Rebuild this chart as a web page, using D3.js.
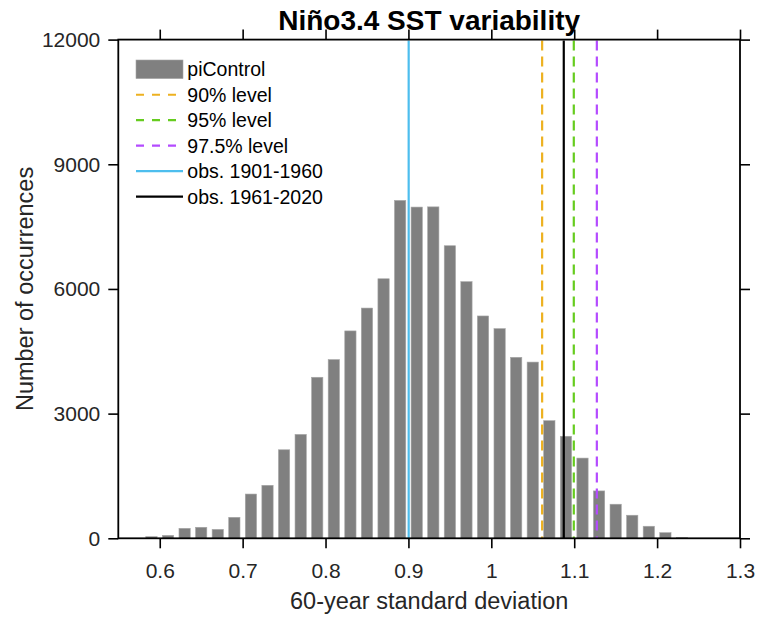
<!DOCTYPE html>
<html>
<head>
<meta charset="utf-8">
<script src="https://cdn.jsdelivr.net/npm/d3@7"></script>
<style>
  html, body { margin: 0; padding: 0; background: #fff; }
  svg { display: block; font-family: "Liberation Sans", Arial, sans-serif; }
</style>
</head>
<body>
<svg id="chart" width="758" height="617"></svg>
<script>
// ---- data ----
const binCenters = [0.59, 0.61, 0.63, 0.65, 0.67, 0.69, 0.71, 0.73, 0.75, 0.77, 0.79,
  0.81, 0.83, 0.85, 0.87, 0.89, 0.91, 0.93, 0.95, 0.97, 0.99, 1.01, 1.03, 1.05,
  1.07, 1.09, 1.11, 1.13, 1.15, 1.17, 1.19, 1.21, 1.23];
const counts = [40, 70, 240, 265, 215, 505, 1065, 1275, 2130, 2500, 3875,
  4300, 4990, 5540, 6245, 8130, 7970, 7975, 7040, 6175, 5350, 5045, 4355, 4240,
  2830, 2455, 1930, 1140, 820, 555, 290, 135, 20];
const binWidth = 0.02;
const xTicks = [0.6, 0.7, 0.8, 0.9, 1.0, 1.1, 1.2, 1.3];
const xTickLabels = ["0.6", "0.7", "0.8", "0.9", "1", "1.1", "1.2", "1.3"];
const yTicks = [0, 3000, 6000, 9000, 12000];
const lineNames = ["90% level", "95% level", "97.5% level", "obs. 1901-1960", "obs. 1961-2020"];
const lineValues = [1.0613, 1.0995, 1.1273, 0.9003, 1.0874];
const lineColors = ["#EDB120", "#66CC1F", "#B44BFF", "#4DBEEE", "#000000"];
const lineDashed = [true, true, true, false, false];
const legendNames = ["piControl"].concat(lineNames);
const title = "Niño3.4 SST variability";
const xLabel = "60-year standard deviation";
const yLabel = "Number of occurrences";

// ---- layout ----
const svg = d3.select("#chart");
const L = 118.3, R = 740, T = 39.6, B = 538.3;
const x = d3.scaleLinear().domain([0.55, 1.3]).range([L, R]);
const y = d3.scaleLinear().domain([0, 12000]).range([B, T]);
const textColor = "#262626";

// bars
const barFrac = 0.68;
svg.append("g").selectAll("rect").data(binCenters).join("rect")
  .attr("x", (d) => x(d - binWidth * barFrac / 2))
  .attr("width", (d) => x(d + binWidth * barFrac / 2) - x(d - binWidth * barFrac / 2))
  .attr("y", (d, i) => y(counts[i]))
  .attr("height", (d, i) => y(0) - y(counts[i]))
  .attr("fill", "#808080")
  .attr("stroke", "#a6a6a6")
  .attr("stroke-width", 0.6);

// vertical lines
svg.append("g").selectAll("line").data(lineValues).join("line")
  .attr("x1", (d) => x(d)).attr("x2", (d) => x(d))
  .attr("y1", T + 1).attr("y2", B)
  .attr("stroke", (d, i) => lineColors[i])
  .attr("stroke-width", 2.2)
  .attr("stroke-dasharray", (d, i) => lineDashed[i] ? "10,6" : null);

// axes
const fontTick = 21;
const axisStyle = (g) => {
  g.select(".domain").remove();
  g.selectAll(".tick line").attr("stroke", "#000").attr("stroke-width", 1.6);
  g.selectAll(".tick text").attr("fill", textColor).attr("font-size", fontTick)
    .attr("font-family", "'Liberation Sans', Arial, sans-serif");
};
svg.append("g").attr("transform", `translate(0,${B})`)
  .call(d3.axisBottom(x).tickValues(xTicks).tickFormat((d, i) => xTickLabels[i]).tickSize(10).tickPadding(15))
  .call(axisStyle);
svg.append("g").attr("transform", `translate(0,${T})`)
  .call(d3.axisTop(x).tickValues(xTicks).tickFormat("").tickSize(10))
  .call(axisStyle);
svg.append("g").attr("transform", `translate(${L},0)`)
  .call(d3.axisLeft(y).tickValues(yTicks).tickFormat(d3.format("d")).tickSize(10).tickPadding(8))
  .call(axisStyle);
svg.append("g").attr("transform", `translate(${R},0)`)
  .call(d3.axisRight(y).tickValues(yTicks).tickFormat("").tickSize(10))
  .call(axisStyle);

// box
svg.append("rect").attr("x", L).attr("y", T).attr("width", R - L).attr("height", B - T)
  .attr("fill", "none").attr("stroke", "#000").attr("stroke-width", 1.8);

// title and labels
svg.append("text").attr("x", (L + R) / 2).attr("y", 30).attr("text-anchor", "middle")
  .attr("font-size", 28).attr("font-weight", "bold").attr("fill", "#000").text(title);
svg.append("text").attr("x", (L + R) / 2).attr("y", 609).attr("text-anchor", "middle")
  .attr("font-size", 23.5).attr("fill", textColor).text(xLabel);
svg.append("text").attr("transform", `translate(33,${(T + B) / 2}) rotate(-90)`)
  .attr("text-anchor", "middle").attr("font-size", 23.5).attr("fill", textColor).text(yLabel);

// legend
const legX = 136, legY0 = 69.3, legDy = 25.45, legFont = 19.5;
const leg = svg.append("g");
legendNames.forEach((name, i) => {
  const cy = legY0 + i * legDy;
  if (i === 0) {
    leg.append("rect").attr("x", legX).attr("y", cy - 9.3).attr("width", 47).attr("height", 18.6)
      .attr("fill", "#808080").attr("stroke", "#a6a6a6").attr("stroke-width", 0.6);
  } else {
    const k = i - 1;
    leg.append("line").attr("x1", legX).attr("x2", lineDashed[k] ? 177 : 183)
      .attr("y1", cy).attr("y2", cy)
      .attr("stroke", lineColors[k]).attr("stroke-width", 2.2)
      .attr("stroke-dasharray", lineDashed[k] ? "8,8" : null);
  }
  leg.append("text").attr("x", 187.3).attr("y", cy + 7).attr("font-size", legFont)
    .attr("fill", "#000").text(name);
});
</script>
</body>
</html>
